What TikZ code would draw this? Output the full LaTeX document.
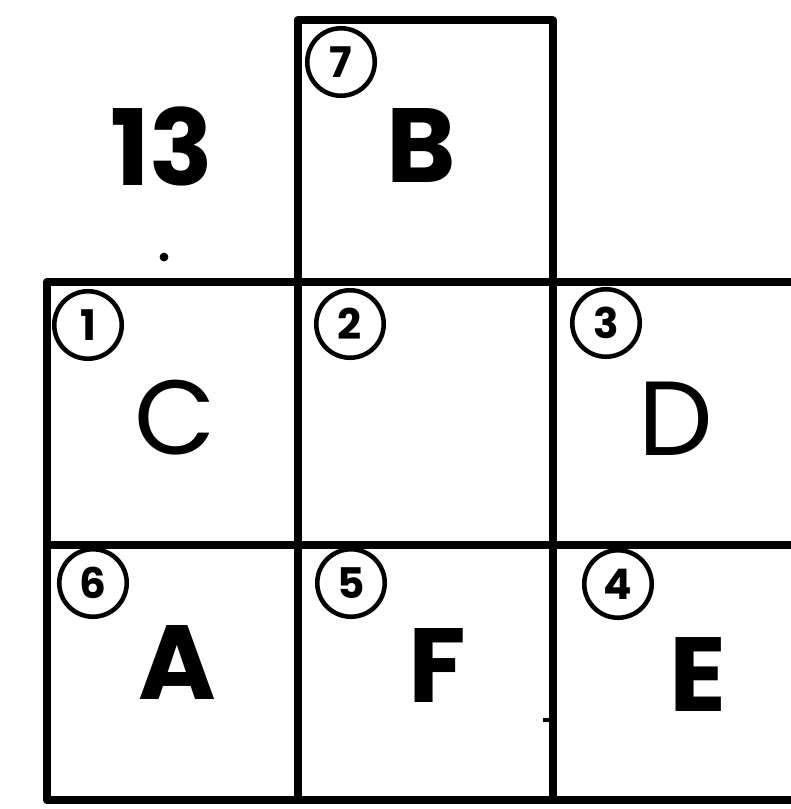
\documentclass[tikz,border=0pt]{standalone}
\usepackage{fontspec}
\setmainfont{Poppins}
\usetikzlibrary{positioning}

\begin{document}
\begin{tikzpicture}[
    x=0.02cm, y=-0.02cm,
    every node/.style={inner sep=0pt},
    wall/.style={line width=4.4pt, line cap=round},
    tag/.style={circle, draw=black, line width=2.6pt, minimum size=1.35cm, font=\fontsize{24}{24}\selectfont\bfseries},
    letter/.style={font=\fontsize{60}{60}\selectfont\bfseries},
    plainletter/.style={font=\fontsize{60}{60}\selectfont}
]
\useasboundingbox (0,0) rectangle (791,809);

% Grid
\draw[wall] (298,20) -- (551,20);
\draw[wall] (298,20) -- (298,800);
\draw[wall] (553,20) -- (553,800);
\draw[wall] (47,282) -- (791,282);
\draw[wall] (47,545) -- (791,545);
\draw[wall] (47,800) -- (791,800);
\draw[wall] (47,282) -- (47,800);
\draw[line width=2.5pt] (543,720) -- (553,720);

% Circled numbers
\node[tag] (n7) at (341,62) {7};
\node[tag] (n1) at (88,325) {1};
\node[tag] (n2) at (350,324) {2};
\node[tag] (n3) at (606,323) {3};
\node[tag] (n6) at (93,583) {6};
\node[tag] (n5) at (351,583) {5};
\node[tag] (n4) at (618,584) {4};

% Letters
\node[letter] (num) at (162,146) {13};
\node[fill, circle, minimum size=5pt] (dot) at (164,257) {};
\node[letter] (b) at (421,145) {B};
\node[plainletter] (c) at (175,418) {C};
\node[plainletter] (d) at (676,419) {D};
\node[letter] (a) at (177,662) {A};
\node[letter] (f) at (437,665) {F};
\node[letter] (e) at (698,674) {E};

\end{tikzpicture}
\end{document}
